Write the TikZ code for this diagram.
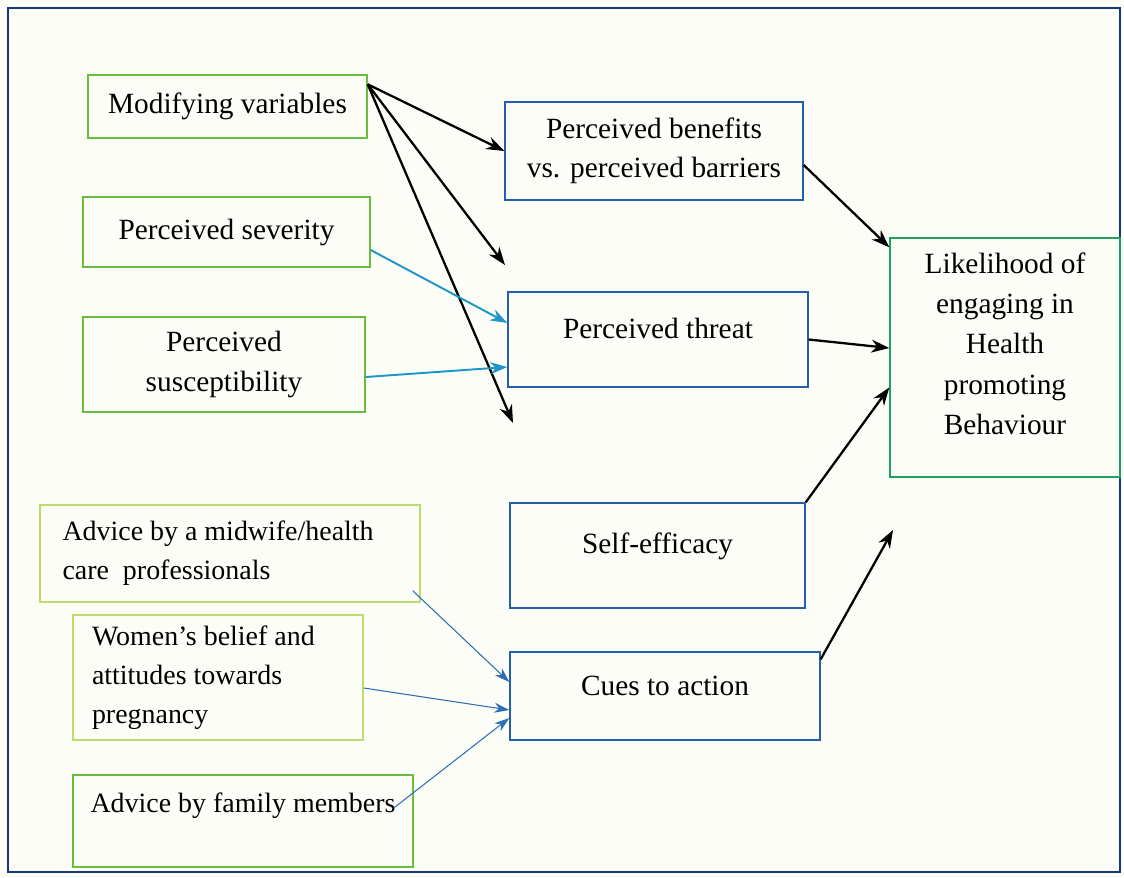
\documentclass[tikz,border=0pt]{standalone}
\usepackage{fontspec}
\setmainfont{Liberation Serif}
\usetikzlibrary{arrows.meta}
\definecolor{framenavy}{RGB}{25,55,125}
\definecolor{vargreen}{RGB}{105,190,60}
\definecolor{limegreen}{RGB}{190,220,110}
\definecolor{tealgreen}{RGB}{30,160,95}
\definecolor{boxblue}{RGB}{35,95,170}
\definecolor{cyanarrow}{RGB}{30,150,200}
\definecolor{thinblue}{RGB}{45,110,180}
\definecolor{paper}{RGB}{253,253,248}
\begin{document}
\begin{tikzpicture}[
    varbox/.style={rectangle, draw=vargreen, thick, align=center, font=\fontsize{16.7}{22.5}\selectfont},
    cuebox/.style={rectangle, draw=limegreen, thick, align=flush left, font=\fontsize{15.9}{22.3}\selectfont},
    hbmbox/.style={rectangle, draw=boxblue, thick, align=center, font=\fontsize{16.7}{22.5}\selectfont},
    outbox/.style={rectangle, draw=tealgreen, thick, align=center, font=\fontsize{16.7}{23}\selectfont},
    arrow/.style={-{Stealth[length=0.36cm,width=0.26cm]},line width=1.3pt},
    bluearrow/.style={-{Stealth[length=0.34cm,width=0.24cm]},line width=1.1pt,cyanarrow},
    thinarrow/.style={-{Stealth[length=0.3cm,width=0.2cm]},line width=0.6pt,thinblue}
]
    % Frame
    \useasboundingbox (0,0) rectangle (22.48,-17.54);
    \fill[paper] (0,0) rectangle (22.48,-17.54);
    \draw[framenavy, line width=1.2pt] (0.16,-0.16) rectangle (22.4,-17.44);

    % Modifying factors
    \node[varbox, minimum width=5.58cm, minimum height=1.26cm] (modif) at (4.55,-2.13) {Modifying variables};
    \node[varbox, minimum width=5.74cm, minimum height=1.4cm] (severity) at (4.53,-4.64) {Perceived severity};
    \node[varbox, minimum width=5.64cm, minimum height=1.9cm] (suscept) at (4.48,-7.29) {Perceived\\susceptibility};

    % Health belief constructs
    \node[hbmbox, minimum width=5.96cm, minimum height=1.96cm] (benefits) at (13.08,-3.02) {Perceived benefits\\vs. perceived barriers};
    \node[hbmbox, minimum width=6.0cm, minimum height=1.9cm, text depth=0.45cm] (threat) at (13.16,-6.79) {Perceived threat};
    \node[hbmbox, minimum width=5.9cm, minimum height=2.1cm, text depth=0.5cm] (selfeff) at (13.15,-11.11) {Self-efficacy};
    \node[hbmbox, minimum width=6.2cm, minimum height=1.76cm, text depth=0.4cm] (cues) at (13.3,-13.92) {Cues to action};

    % Outcome
    \node[outbox, minimum width=4.6cm, minimum height=4.78cm, text depth=0.56cm] (likely) at (20.1,-7.15) {Likelihood of\\engaging in\\Health\\promoting\\Behaviour};

    % Cues
    \node[cuebox, minimum width=7.6cm, minimum height=1.94cm, text width=6.7cm] (midwife) at (4.6,-11.07) {Advice by a midwife/health\\care~~professionals};
    \node[cuebox, minimum width=5.8cm, minimum height=2.5cm, text width=5.04cm] (women) at (4.36,-13.55) {Women’s belief and\\attitudes towards\\pregnancy};
    \node[cuebox, draw=vargreen, minimum width=6.8cm, minimum height=1.84cm, text width=6.1cm, text depth=0.75cm] (family) at (4.86,-16.42) {Advice by family members};

    % Free ends
    \coordinate (mid1) at (10.1,-5.3);
    \coordinate (mid2) at (10.26,-8.46);
    \coordinate (cueend) at (17.86,-10.6);

    % Arrows from modifying variables
    \draw[arrow] ([yshift=-0.2cm]modif.north east) -- (benefits.west);
    \draw[arrow] ([yshift=-0.2cm]modif.north east) -- (mid1);
    \draw[arrow] ([yshift=-0.2cm]modif.north east) -- (mid2);

    % Arrows to perceived threat
    \draw[bluearrow] ([yshift=-0.36cm]severity.east) -- ([yshift=0.33cm]threat.west);
    \draw[bluearrow] ([yshift=-0.25cm]suscept.east) -- ([yshift=-0.55cm]threat.west);

    % Arrows to likelihood
    \draw[arrow] ([yshift=-0.28cm]benefits.east) -- ([yshift=-0.2cm]likely.north west);
    \draw[arrow] (threat.east) -- ([yshift=0.19cm]likely.west);
    \draw[arrow] (selfeff.north east) -- ([yshift=-0.6cm]likely.west);
    \draw[arrow] ([yshift=-0.16cm]cues.north east) -- (cueend);

    % Arrows to cues to action
    \draw[thinarrow] ([shift={(-0.16,0.24)}]midwife.south east) -- ([yshift=0.28cm]cues.west);
    \draw[thinarrow] ([yshift=-0.21cm]women.east) -- ([yshift=-0.28cm]cues.west);
    \draw[thinarrow] ([shift={(-0.4,0.26)}]family.east) -- ([yshift=-0.44cm]cues.west);
\end{tikzpicture}
\end{document}
